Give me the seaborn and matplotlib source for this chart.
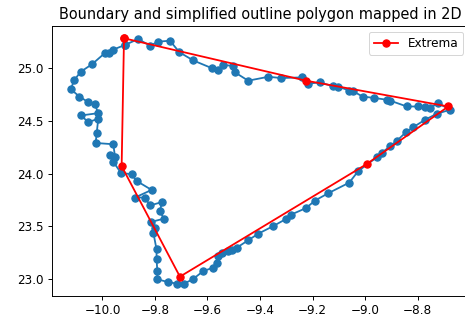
import matplotlib
matplotlib.use("Agg")
import matplotlib.pyplot as plt
import seaborn as sns
import pandas as pd

boundary_x = [-9.914, -9.959, -9.974, -9.990, -10.039, -10.083, -10.107, -10.121, -10.088, -10.055,
              -10.029, -10.016, -10.082, -10.054, -10.016, -10.022, -10.026, -9.959, -9.952, -9.971,
              -9.959, -9.930, -9.889, -9.870, -9.813, -9.876, -9.838, -9.819, -9.774, -9.781,
              -9.766, -9.816, -9.800, -9.806, -9.794, -9.794, -9.791, -9.791, -9.752, -9.715,
              -9.690, -9.656, -9.616, -9.578, -9.565, -9.559, -9.546, -9.521, -9.508, -9.489,
              -9.445, -9.406, -9.352, -9.301, -9.283, -9.225, -9.190, -9.140, -9.060, -9.026,
              -8.953, -8.936, -8.905, -8.879, -8.844, -8.816, -8.771, -8.727, -8.676, -8.721,
              -8.752, -8.771, -8.797, -8.841, -8.905, -8.915, -8.966, -9.009, -9.045, -9.060,
              -9.102, -9.121, -9.171, -9.216, -9.241, -9.320, -9.368, -9.445, -9.495, -9.502,
              -9.540, -9.559, -9.584, -9.654, -9.707, -9.743, -9.787, -9.819, -9.864, -9.914]
boundary_y = [25.216, 25.172, 25.138, 25.141, 25.035, 24.962, 24.885, 24.798, 24.728, 24.676,
              24.653, 24.571, 24.549, 24.486, 24.518, 24.383, 24.289, 24.277, 24.158, 24.174,
              24.111, 24.008, 23.992, 23.930, 23.845, 23.773, 23.773, 23.698, 23.730, 23.641,
              23.573, 23.542, 23.485, 23.438, 23.282, 23.188, 23.078, 23.000, 22.975, 22.958,
              22.958, 23.000, 23.078, 23.110, 23.157, 23.219, 23.244, 23.266, 23.275, 23.298,
              23.369, 23.432, 23.500, 23.570, 23.610, 23.673, 23.745, 23.814, 23.914, 24.023,
              24.158, 24.195, 24.258, 24.308, 24.392, 24.439, 24.509, 24.565, 24.603, 24.665,
              24.622, 24.627, 24.634, 24.634, 24.690, 24.697, 24.715, 24.728, 24.777, 24.784,
              24.822, 24.824, 24.862, 24.850, 24.909, 24.903, 24.915, 24.878, 24.956, 25.019,
              25.025, 24.975, 24.997, 25.069, 25.147, 25.256, 25.247, 25.209, 25.272, 25.216]

extrema_x = [-9.918, -9.225, -8.683, -8.994, -9.705, -9.927, -9.918]
extrema_y = [25.279, 24.878, 24.634, 24.089, 23.025, 24.070, 25.279]

title = "Boundary and simplified outline polygon mapped in 2D"
legend_label = "Extrema"

s = 1.2
plt.rcParams["font.family"] = ["DejaVu Sans"]
plt.rcParams["axes.linewidth"] = 0.8 * s
plt.rcParams["xtick.major.size"] = 3.5 * s
plt.rcParams["ytick.major.size"] = 3.5 * s
plt.rcParams["xtick.major.width"] = 0.8 * s
plt.rcParams["ytick.major.width"] = 0.8 * s
plt.rcParams["xtick.major.pad"] = 3.5 * s
plt.rcParams["ytick.major.pad"] = 3.5 * s

fig = plt.figure(figsize=(465 / 72, 320 / 72), dpi=72)
ax = fig.add_axes([51.8 / 465, 24 / 320, 417.2 / 465, 270 / 320])

df_b = pd.DataFrame({"x": boundary_x, "y": boundary_y})
df_e = pd.DataFrame({"x": extrema_x, "y": extrema_y})

sns.lineplot(data=df_b, x="x", y="y", sort=False, estimator=None, ax=ax,
             color="#1f77b4", marker="o", markersize=6 * s,
             markeredgecolor="#1f77b4", markeredgewidth=1 * s, linewidth=1.5 * s)
sns.lineplot(data=df_e, x="x", y="y", sort=False, estimator=None, ax=ax,
             color="red", marker="o", markersize=6 * s,
             markeredgecolor="red", markeredgewidth=1 * s, linewidth=1.5 * s,
             label=legend_label)

ax.set_xlim(-10.193, -8.604)
ax.set_ylim(22.842, 25.395)
ax.set_xticks([-10.0, -9.8, -9.6, -9.4, -9.2, -9.0, -8.8])
ax.set_yticks([23.0, 23.5, 24.0, 24.5, 25.0])
ax.set_xlabel("")
ax.set_ylabel("")
ax.tick_params(labelsize=10 * s)
ax.set_title(title, fontsize=14.5, pad=6 * s)
ax.legend(loc="upper right", fontsize=10 * s)

fig.savefig("out.png", dpi=72)
